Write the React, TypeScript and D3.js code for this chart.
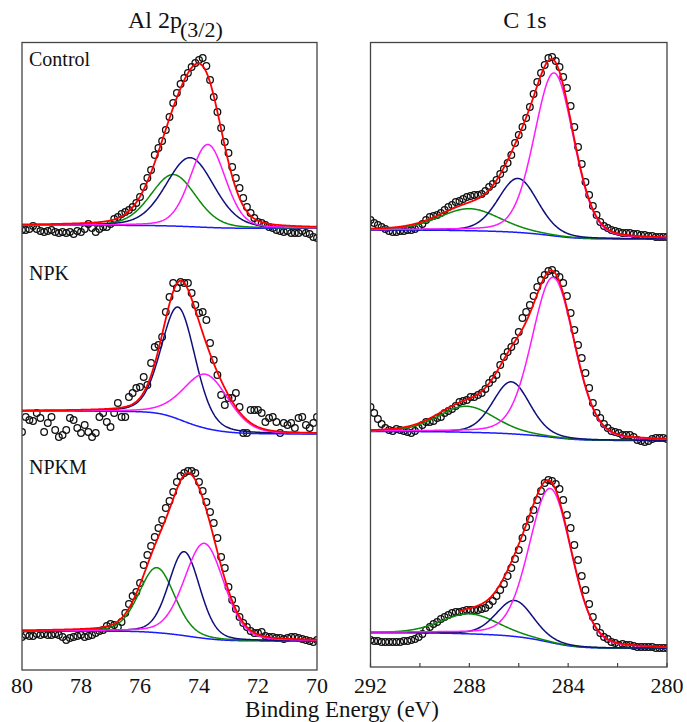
import * as d3 from "d3";

// energy grids of the scans (eV)
const alEnergy = d3.range(0, 81).map((i) => 80 - i * 0.125);
const c1sEnergy = d3.range(0, 81).map((i) => 292 - i * 0.15);

// measured counts (a.u., already offset per sample)
const alControl = [
  438, 438, 439, 442, 439, 437, 436, 437, 438, 436,
  435, 436, 435, 436, 434, 437, 436, 439, 444, 440,
  436, 439, 441, 441, 444, 449, 451, 454, 456, 458,
  461, 465, 471, 481, 490, 498, 513, 520, 527, 538,
  551, 565, 575, 584, 590, 595, 601, 605, 608, 610,
  602, 588, 571, 556, 540, 526, 515, 501, 490, 480,
  470, 461, 455, 450, 446, 445, 443, 441, 440, 438,
  437, 436, 437, 435, 435, 435, 437, 435, 434, 431, 430,
];
const alNPK = [
  236, 251, 248, 247, 255, 250, 236, 245, 251, 238,
  231, 233, 238, 250, 248, 240, 235, 243, 236, 231,
  235, 251, 255, 246, 241, 255, 265, 251, 251, 271,
  275, 280, 281, 291, 283, 305, 321, 323, 331, 356,
  371, 385, 380, 386, 385, 385, 375, 363, 355, 356,
  348, 325, 308, 293, 273, 263, 270, 270, 275, 261,
  235, 235, 258, 258, 258, 255, 246, 250, 251, 246,
  235, 245, 243, 245, 240, 250, 251, 243, 240, 245, 251,
];
const alNPKM = [
  31, 33, 32, 32, 34, 33, 34, 33, 33, 34,
  33, 31, 28, 30, 31, 32, 33, 31, 32, 33,
  35, 37, 38, 42, 44, 43, 41, 46, 55, 64,
  72, 76, 85, 103, 113, 122, 131, 140, 148, 160,
  167, 176, 186, 192, 195, 197, 197, 195, 186, 177,
  166, 156, 145, 130, 111, 100, 81, 68, 59, 51,
  45, 41, 37, 35, 35, 36, 32, 31, 31, 30,
  30, 29, 30, 31, 31, 30, 29, 28, 27, 26, 28,
];
const c1sControl = [
  448, 445, 443, 441, 439, 437, 436, 436, 437, 437,
  438, 438, 439, 441, 444, 448, 451, 452, 453, 455,
  458, 461, 463, 466, 467, 469, 471, 472, 473, 473,
  474, 477, 481, 484, 488, 494, 499, 505, 513, 525,
  533, 541, 550, 561, 574, 586, 595, 603, 610, 611,
  607, 601, 591, 580, 562, 541, 521, 504, 486, 473,
  462, 453, 446, 442, 440, 438, 437, 436, 435, 435,
  435, 434, 434, 433, 433, 432, 432, 431, 431, 431, 431,
];
const c1sNPK = [
  261, 255, 249, 244, 240, 238, 237, 239, 238, 237,
  236, 235, 237, 240, 243, 246, 246, 247, 250, 251,
  255, 257, 259, 262, 266, 267, 268, 271, 271, 273,
  275, 279, 285, 289, 293, 303, 311, 316, 321, 327,
  336, 350, 356, 363, 372, 381, 388, 393, 397, 398,
  394, 391, 385, 372, 355, 338, 323, 310, 295, 280,
  265, 255, 250, 244, 240, 237, 236, 235, 233, 233,
  233, 231, 228, 227, 226, 227, 229, 230, 230, 230, 229,
];
const c1sNPKM = [
  28, 27, 27, 26, 26, 26, 26, 26, 26, 27,
  27, 28, 29, 31, 34, 38, 41, 44, 46, 49,
  51, 53, 55, 56, 56, 57, 58, 58, 58, 58,
  59, 60, 63, 67, 72, 78, 84, 92, 100, 109,
  118, 130, 141, 149, 158, 168, 177, 185, 188, 187,
  184, 179, 168, 153, 140, 123, 108, 92, 78, 64,
  51, 41, 35, 31, 29, 26, 25, 23, 24, 23,
  23, 22, 21, 21, 21, 21, 21, 20, 20, 20, 20,
];

// fitted components: [component, centre eV, height, FWHM eV]
type Peak = [string, number, number, number];
const alControlPeaks: Peak[] = [["g", 74.87, 51.5, 1.8], ["n", 74.3, 69, 1.92], ["m", 73.7, 83, 1.4]];
const alNPKPeaks: Peak[] = [["n", 74.7, 112, 1.36], ["m", 73.76, 54, 1.8]];
const alNPKMPeaks: Peak[] = [["g", 75.43, 65, 1.41], ["n", 74.5, 84, 1.24], ["m", 73.82, 95, 1.58]];
const c1sControlPeaks: Peak[] = [["g", 287.99, 22, 2.9], ["n", 286.03, 54, 1.89], ["m", 284.57, 163, 1.89]];
const c1sNPKPeaks: Peak[] = [["g", 288.12, 26, 2.7], ["n", 286.3, 52, 1.76], ["m", 284.61, 160, 2.03]];
const c1sNPKMPeaks: Peak[] = [["g", 287.99, 20, 2.7], ["n", 286.16, 36, 1.76], ["m", 284.72, 154, 2.03]];

// Shirley background levels: [high-BE side, low-BE side]
const alControlBg = [442.7, 439.7];
const alNPKBg = [257, 234];
const alNPKMBg = [37, 27];
const c1sControlBg = [438, 429];
const c1sNPKBg = [236.5, 227.5];
const c1sNPKMBg = [35.3, 19.7];

const sampleNames = ["Control", "NPK", "NPKM"];
const alTicks = [80, 78, 76, 74, 72, 70];
const c1sTicks = [292, 288, 284, 280];
const c1sMinorTicks = [292, 290, 288, 286, 284, 282, 280];

const compColor: Record<string, string> = { g: "#0a8a0a", n: "#10107a", m: "#ff1aff" };
const FONT = "Liberation Serif, Times New Roman, Times, Tinos, DejaVu Serif, Noto Serif, FreeSerif, serif";

function pv(e: number, p: Peak, eta: number) {
  const x = (e - p[1]) / (p[3] / 2);
  return p[2] * ((1 - eta) * Math.exp(-Math.LN2 * x * x) + eta / (1 + x * x));
}

function fitCurves(peaks: Peak[], bg: number[], domain: number[], eta: number) {
  const lo = Math.min(...domain), hi = Math.max(...domain);
  const es = d3.range(lo, hi + 1e-9, 0.02);
  const sums = es.map((e) => d3.sum(peaks, (p) => pv(e, p, eta)));
  const total = d3.sum(sums);
  let acc = 0;
  const bgv = sums.map((s) => {
    acc += s;
    return bg[1] + (bg[0] - bg[1]) * (acc / total);
  });
  return {
    bg: es.map((e, i) => [e, bgv[i]]),
    comps: peaks.map((p) => ({ key: p[0], pts: es.map((e, i) => [e, bgv[i] + pv(e, p, eta)]) })),
    env: es.map((e, i) => [e, bgv[i] + sums[i]]),
  };
}

function Panel({ x0, x1, top, bottom, domain, energy, traces, eta, fitFrom, labels }: any) {
  const x = d3.scaleLinear().domain(domain).range([x0, x1]);
  const y = d3.scaleLinear().domain([668 - bottom, 668 - top]).range([bottom, top]);
  const line = d3.line<number[]>().x((d) => x(d[0])).y((d) => y(d[1]));
  return (
    <g>
      <defs>
        <clipPath id={`clip${Math.round(x0)}`}>
          <rect x={x0} y={top} width={x1 - x0} height={bottom - top} />
        </clipPath>
      </defs>
      <g clipPath={`url(#clip${Math.round(x0)})`}>
        {traces.map((t: any, ti: number) => {
          const f = fitCurves(t.peaks, t.bg, domain, eta);
          const env = fitFrom[ti] != null ? f.env.filter((d) => d[0] <= fitFrom[ti]) : f.env;
          return (
            <g key={ti}>
              {t.data.map((v: number, i: number) => (
                <circle key={i} cx={x(energy[i])} cy={y(v)} r={3.3} fill="none" stroke="#111" strokeWidth={1.3} />
              ))}
              <path d={line(f.bg) ?? ""} fill="none" stroke="#1a1aff" strokeWidth={1.5} />
              {f.comps.map((c) => (
                <path key={c.key} d={line(c.pts) ?? ""} fill="none" stroke={compColor[c.key]} strokeWidth={1.5} />
              ))}
              <path d={line(env) ?? ""} fill="none" stroke="#ff0000" strokeWidth={1.8} />
            </g>
          );
        })}
      </g>
      <rect x={x0} y={top} width={x1 - x0} height={bottom - top} fill="none" stroke="#444" strokeWidth={1.3} />
      {labels}
    </g>
  );
}

export default function App() {
  const alTraces = [
    { data: alControl, peaks: alControlPeaks, bg: alControlBg },
    { data: alNPK, peaks: alNPKPeaks, bg: alNPKBg },
    { data: alNPKM, peaks: alNPKMPeaks, bg: alNPKMBg },
  ];
  const c1sTraces = [
    { data: c1sControl, peaks: c1sControlPeaks, bg: c1sControlBg },
    { data: c1sNPK, peaks: c1sNPKPeaks, bg: c1sNPKBg },
    { data: c1sNPKM, peaks: c1sNPKMPeaks, bg: c1sNPKMBg },
  ];
  const xAl = d3.scaleLinear().domain([80, 70]).range([22, 317]);
  const xC = d3.scaleLinear().domain([292, 280]).range([370.5, 667]);
  const labelY = [66, 280, 474];

  return (
    <svg width={687} height={722} style={{ position: "absolute", left: 0, top: 0 }}>
      <rect width={687} height={722} fill="#fff" />
      <g fontFamily={FONT}>
        <Panel
          x0={22} x1={317} top={42.5} bottom={670} domain={[80, 70]} energy={alEnergy}
          traces={alTraces} eta={0.2} fitFrom={[null, null, null]}
          labels={sampleNames.map((s, i) => (
            <text key={s} x={29} y={labelY[i]} fontSize={20} fill="#111" fontFamily={FONT}>{s}</text>
          ))}
        />
        <Panel
          x0={370.5} x1={667} top={42.5} bottom={667} domain={[292, 280]} energy={c1sEnergy}
          traces={c1sTraces} eta={0.2} fitFrom={[null, null, 288.4]} labels={null}
        />
        {c1sMinorTicks.map((t) => (
          <line key={t} x1={xC(t)} x2={xC(t)} y1={667} y2={663} stroke="#444" strokeWidth={1.2} />
        ))}
        {alTicks.map((t) => (
          <text key={t} x={xAl(t)} y={693} fontSize={22} textAnchor="middle" fill="#111" fontFamily={FONT}>{t}</text>
        ))}
        {c1sTicks.map((t) => (
          <text key={t} x={xC(t)} y={693} fontSize={22} textAnchor="middle" fill="#111" fontFamily={FONT}>{t}</text>
        ))}
        <text x={342} y={717} fontSize={23} textAnchor="middle" fill="#111" fontFamily={FONT}>Binding Energy (eV)</text>
        <text x={128} y={28} fontSize={24} fill="#111" fontFamily={FONT}>Al 2p</text>
        <text x={180} y={37} fontSize={22} fill="#111" fontFamily={FONT}>(3/2)</text>
        <text x={525} y={28} fontSize={24} textAnchor="middle" fill="#111" fontFamily={FONT}>C 1s</text>
      </g>
    </svg>
  );
}
